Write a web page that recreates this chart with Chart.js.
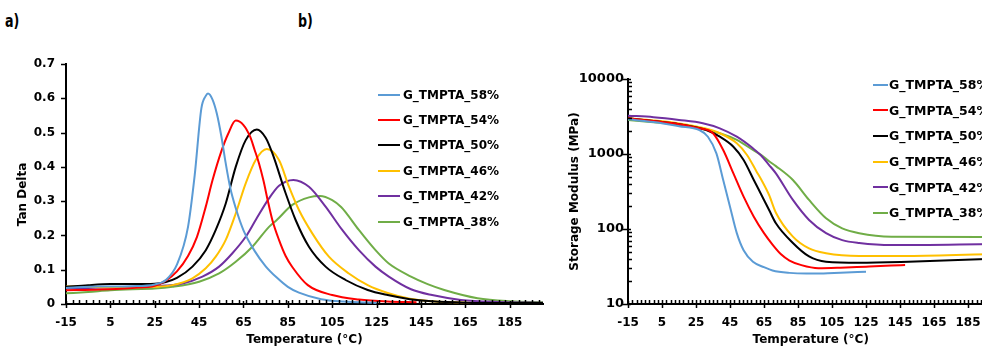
<!DOCTYPE html>
<html>
<head>
<meta charset="utf-8">
<script src="https://cdn.jsdelivr.net/npm/chart.js@4.4.0/dist/chart.umd.min.js"></script>
<style>
    html, body { margin: 0; padding: 0; background: #fff; width: 982px; height: 346px; overflow: hidden; position: relative; }
    canvas { position: absolute; top: 0; }
    #tan-chart { left: 0; }
    #mod-chart { left: 540px; }
    .tag { position: absolute; top: 12px; font: bold 18px/18px "Liberation Sans Narrow", "DejaVu Sans Condensed", sans-serif; color: #000; transform: scaleX(0.78); transform-origin: left top; }
    .legend { position: absolute; font: bold 12px "DejaVu Sans", sans-serif; color: #000; white-space: nowrap; }
    #mod-legend { font-size: 12.5px; }
    .legend .row { display: flex; align-items: center; }
    .legend .swatch { display: inline-block; height: 2px; }
</style>
</head>
<body>
<div class="tag" style="left:5px">a)</div>
<div class="tag" style="left:298px">b)</div>
<canvas id="tan-chart" width="560" height="360"></canvas>
<canvas id="mod-chart" width="470" height="360"></canvas>
<div class="legend" id="tan-legend" style="left:378px; top:82px"></div>
<div class="legend" id="mod-legend" style="left:873px; top:72px"></div>

<script>
// ── Series names / colours ───────────────────────────────
const seriesNames  = ['G_TMPTA_58%', 'G_TMPTA_54%', 'G_TMPTA_50%', 'G_TMPTA_46%', 'G_TMPTA_42%', 'G_TMPTA_38%'];
const seriesColors = ['#5B9BD5', '#FF0000', '#000000', '#FFC000', '#7030A0', '#70AD47'];

// ── Tick labels ──────────────────────────────────────────
const tempTicks = [-15, 5, 25, 45, 65, 85, 105, 125, 145, 165, 185];
const tanTicks  = [0, 0.1, 0.2, 0.3, 0.4, 0.5, 0.6, 0.7];
const modTicks  = [10, 100, 1000, 10000];

// ── a) Tan delta (temperature °C / value) ────────────────
const tanT58 = [-15, 0, 15, 25, 30, 35, 40, 43, 46, 48, 49, 51, 53, 55, 57, 59, 61.5, 65, 70, 75, 80, 85, 90, 100, 110, 125];
const tan58  = [0.047, 0.051, 0.052, 0.057, 0.07, 0.115, 0.225, 0.375, 0.57, 0.607, 0.614, 0.597, 0.555, 0.49, 0.41, 0.34, 0.28, 0.215, 0.155, 0.11, 0.077, 0.05, 0.033, 0.014, 0.007, 0.003];

const tanT54 = [-15, 0, 15, 25, 30, 35, 40, 44, 48, 51, 55, 58, 61.5, 65, 68, 70, 72, 74, 76, 78, 81, 84, 87, 94, 105, 117, 130, 143];
const tan54  = [0.04, 0.042, 0.047, 0.053, 0.068, 0.095, 0.14, 0.195, 0.284, 0.36, 0.445, 0.495, 0.535, 0.522, 0.488, 0.45, 0.41, 0.36, 0.30, 0.245, 0.187, 0.14, 0.108, 0.055, 0.026, 0.013, 0.007, 0.005];

const tanT50 = [-15, -5, 5, 15, 25, 30, 35, 42, 48, 52.5, 57, 61.5, 66, 71, 75, 78, 84, 88.5, 94.5, 102, 111, 121, 130, 140, 150, 165, 180, 200];
const tan50  = [0.05, 0.055, 0.058, 0.058, 0.059, 0.064, 0.076, 0.109, 0.157, 0.216, 0.293, 0.40, 0.478, 0.509, 0.485, 0.44, 0.323, 0.245, 0.167, 0.109, 0.07, 0.041, 0.026, 0.014, 0.008, 0.004, 0.003, 0.003];

const tanT46 = [-15, -5, 5, 15, 25, 33, 42, 48, 52.5, 57, 61.5, 66, 70.5, 75.5, 81, 85.5, 90, 96, 103.5, 112.5, 121, 130, 140, 150, 165, 180, 200];
const tan46  = [0.051, 0.05, 0.049, 0.049, 0.05, 0.055, 0.075, 0.104, 0.138, 0.187, 0.264, 0.352, 0.42, 0.452, 0.42, 0.342, 0.274, 0.206, 0.138, 0.089, 0.055, 0.032, 0.015, 0.008, 0.004, 0.003, 0.003];

const tanT42 = [-15, -5, 5, 15, 25, 37.5, 46.5, 54, 60, 66, 70.5, 76.5, 81, 87.5, 94.5, 102, 109.5, 117, 124.5, 130.5, 140.5, 150, 163, 180, 200];
const tan42  = [0.046, 0.047, 0.049, 0.05, 0.052, 0.06, 0.08, 0.109, 0.148, 0.196, 0.245, 0.308, 0.345, 0.362, 0.342, 0.284, 0.216, 0.157, 0.109, 0.08, 0.043, 0.026, 0.012, 0.006, 0.004];

const tanT38 = [-15, -5, 5, 15, 25, 33, 45, 54, 61.5, 69, 76.5, 80, 87, 94.5, 99.5, 105, 109, 111, 117, 124.5, 130.5, 140.5, 148, 155.5, 170.5, 185.5, 200];
const tan38  = [0.031, 0.035, 0.04, 0.043, 0.045, 0.05, 0.065, 0.089, 0.123, 0.167, 0.225, 0.245, 0.289, 0.311, 0.315, 0.303, 0.283, 0.268, 0.216, 0.157, 0.118, 0.08, 0.058, 0.041, 0.017, 0.008, 0.005];

// ── b) Storage modulus (temperature °C / MPa) ────────────
const modT58 = [-15, 0, 15, 27, 32, 37, 41, 45, 49, 53, 58.5, 65, 70, 80, 90, 100, 110, 125];
const mod58  = [2900, 2670, 2350, 2090, 1700, 1020, 450, 198, 88, 52, 36.5, 31, 28, 26, 25.5, 25.6, 26.2, 27];

const modT54 = [-15, 0, 15, 27, 35, 41, 47, 53, 59, 65, 70, 75, 80, 87, 97, 110, 125, 140, 148];
const mod54  = [2990, 2750, 2500, 2200, 1890, 1130, 552, 270, 146, 88, 62, 46, 38, 33, 30, 30.5, 31.5, 32.5, 33];

const modT50 = [-15, 0, 15, 31, 39, 47, 53, 59, 65, 68, 72, 82, 91.5, 101.5, 121, 150, 200];
const mod50  = [2990, 2750, 2500, 2090, 1700, 1250, 832, 450, 244, 179, 119, 65, 43, 36.6, 35.5, 36.6, 40];

const modT46 = [-15, 0, 15, 30, 39, 49, 55, 60.5, 64, 68, 72, 82, 91.5, 101.5, 121, 150, 200];
const mod46  = [3000, 2800, 2550, 2200, 1890, 1390, 970, 590, 430, 284, 165, 79, 55, 47.5, 43.7, 43.7, 46.4];

const modT42 = [-15, 0, 15, 29, 39, 49, 58.5, 63, 68, 72, 82, 91.5, 101.5, 111, 121, 140, 200];
const mod42  = [3244, 3100, 2850, 2570, 2200, 1700, 1190, 970, 713, 552, 244, 132, 88, 71, 65, 61, 63];

const modT38 = [-15, 0, 15, 27, 39, 49, 58.5, 63, 68, 72, 82, 91.5, 101.5, 111, 121, 140, 200];
const mod38  = [2840, 2650, 2450, 2200, 1890, 1540, 1130, 980, 800, 690, 450, 244, 139, 102, 88, 79, 78];

// ── Helpers ──────────────────────────────────────────────
const FONT = 'DejaVu Sans';

function pts(xs, ys) {
    return xs.map((x, i) => ({ x: x, y: ys[i] }));
}

function makeDatasets(pairs) {
    return pairs.map((p, i) => ({
        label: seriesNames[i],
        data: pts(p[0], p[1]),
        borderColor: seriesColors[i],
        backgroundColor: seriesColors[i],
        borderWidth: 2,
        pointRadius: 0,
        fill: false,
        cubicInterpolationMode: 'monotone'
    }));
}

function minorList(from, to, step) {
    const out = [];
    for (let v = from + step; v < to; v += step) out.push(v);
    return out;
}

function logMinors(lo, hi) {
    const out = [];
    for (let d = lo; d < hi; d *= 10) {
        for (let k = 2; k <= 9; k++) out.push(d * k);
    }
    return out;
}

// draws the excel style tick marks (majors crossing, minors inside)
const tickMarks = {
    id: 'tickMarks',
    afterDraw(chart, args, opts) {
        const { ctx, chartArea: a, scales } = chart;
        const x = scales.x, y = scales.y;
        ctx.save();
        ctx.strokeStyle = '#000';
        ctx.lineWidth = 1.5;
        ctx.beginPath();
        x.ticks.forEach(t => {
            const px = Math.round(x.getPixelForValue(t.value)) + 0.5;
            ctx.moveTo(px, a.bottom - 3);
            ctx.lineTo(px, a.bottom + 4);
        });
        opts.xMinor.forEach(v => {
            const px = Math.round(x.getPixelForValue(v)) + 0.5;
            ctx.moveTo(px, a.bottom);
            ctx.lineTo(px, a.bottom - 4);
        });
        y.ticks.forEach(t => {
            const py = Math.round(y.getPixelForValue(t.value)) + 0.5;
            ctx.moveTo(a.left - 5, py);
            ctx.lineTo(a.left + (opts.yCross ? 3 : 0), py);
        });
        (opts.yMinor || []).forEach(v => {
            const py = Math.round(y.getPixelForValue(v)) + 0.5;
            ctx.moveTo(a.left, py);
            ctx.lineTo(a.left + 4, py);
        });
        ctx.stroke();
        ctx.restore();
    }
};

function xScale(tickPad) {
    return {
        type: 'linear',
        min: -15,
        max: 200,
        afterBuildTicks: s => { s.ticks = tempTicks.map(v => ({ value: v })); },
        afterFit: s => { s.height = 56; },
        grid: { display: false, drawTicks: true, tickLength: 6 },
        border: { display: true, color: '#000', width: 2 },
        ticks: { color: '#000', padding: tickPad, maxRotation: 0, autoSkip: false, font: { family: FONT, size: 12, weight: 'bold' } },
        title: { display: true, text: 'Temperature (°C)', color: '#000', font: { family: FONT, size: 12, weight: 'bold' }, padding: { top: 0, bottom: 13 } }
    };
}

function buildLegend(id, datasets, lineLen, gap, rowH) {
    const box = document.getElementById(id);
    datasets.forEach(ds => {
        const row = document.createElement('div');
        row.className = 'row';
        row.style.height = rowH + 'px';
        row.innerHTML = `<span class="swatch" style="width:${lineLen}px; background:${ds.borderColor}; margin-right:${gap}px"></span><span>${ds.label}</span>`;
        box.appendChild(row);
    });
}

// ── a) Tan Delta chart ───────────────────────────────────
const tanSets = makeDatasets([
    [tanT58, tan58], [tanT54, tan54], [tanT50, tan50],
    [tanT46, tan46], [tanT42, tan42], [tanT38, tan38]
]);

new Chart(document.getElementById('tan-chart'), {
    type: 'line',
    data: { datasets: tanSets },
    plugins: [tickMarks],
    options: {
        responsive: false,
        animation: false,
        layout: { padding: { left: 0, top: 64, right: 17, bottom: 0 } },
        plugins: {
            legend: { display: false },
            tooltip: { enabled: false },
            tickMarks: { xMinor: minorList(-15, 200, 3), yCross: false }
        },
        scales: {
            x: xScale(6),
            y: {
                min: 0,
                max: 0.7,
                afterBuildTicks: s => { s.ticks = tanTicks.map(v => ({ value: v })); },
                afterFit: s => { s.width = 66; },
                grid: { display: false, drawTicks: true, tickLength: 6 },
                border: { display: true, color: '#000', width: 2 },
                ticks: { color: '#000', padding: 5, font: { family: FONT, size: 12, weight: 'bold' },
                         callback: v => v === 0 ? '0' : v.toFixed(1) },
                // trailing spaces push the rotated label a little lower, as in the figure
                title: { display: true, text: 'Tan Delta     ', color: '#000', font: { family: FONT, size: 12, weight: 'bold' }, padding: { top: 16, bottom: 0 } }
            }
        }
    }
});

// ── b) Storage modulus chart ─────────────────────────────
const modSets = makeDatasets([
    [modT58, mod58], [modT54, mod54], [modT50, mod50],
    [modT46, mod46], [modT42, mod42], [modT38, mod38]
]);

new Chart(document.getElementById('mod-chart'), {
    type: 'line',
    data: { datasets: modSets },
    plugins: [tickMarks],
    options: {
        responsive: false,
        animation: false,
        layout: { padding: { left: 0, top: 79, right: 16.5, bottom: 0 } },
        plugins: {
            legend: { display: false },
            tooltip: { enabled: false },
            tickMarks: { xMinor: minorList(-15, 200, 2.5), yMinor: logMinors(10, 10000), yCross: true }
        },
        scales: {
            x: xScale(6),
            y: {
                type: 'logarithmic',
                min: 10,
                max: 10000,
                afterBuildTicks: s => { s.ticks = modTicks.map(v => ({ value: v })); },
                afterFit: s => { s.width = 88; },
                grid: { display: false, drawTicks: true, tickLength: 3 },
                border: { display: true, color: '#000', width: 2 },
                ticks: { color: '#000', padding: 1, font: { family: FONT, size: 13, weight: 'bold' },
                         callback: v => String(v) },
                title: { display: true, text: 'Storage Modulus (MPa)', color: '#000', font: { family: FONT, size: 12, weight: 'bold' }, padding: { top: 28, bottom: 0 } }
            }
        }
    }
});

buildLegend('tan-legend', tanSets, 22, 3, 25.4);
buildLegend('mod-legend', modSets, 15, 1, 25.6);
</script>
</body>
</html>
